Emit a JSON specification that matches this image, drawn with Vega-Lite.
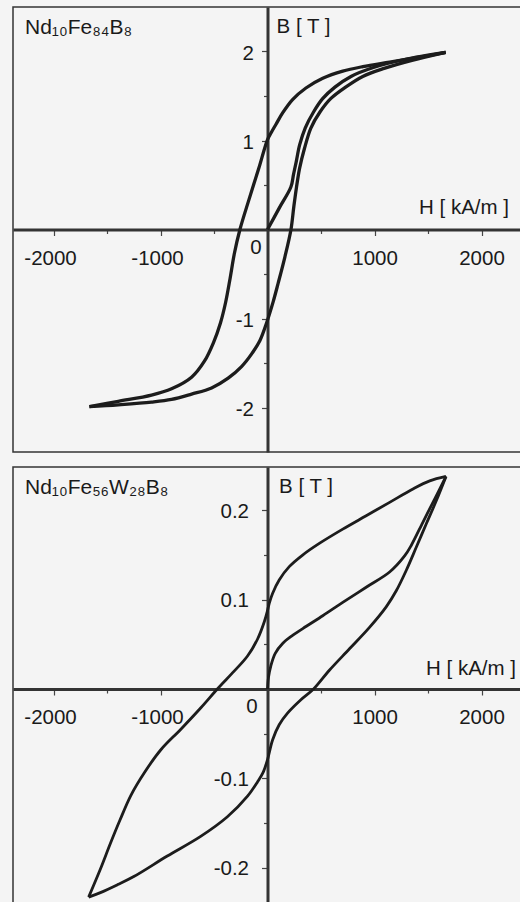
{
  "$schema": "https://vega.github.io/schema/vega-lite/v6.json",
  "background": "#f4f4f4",
  "padding": {"left": 12, "top": 6, "right": 0, "bottom": 0},
  "spacing": 13,
  "config": {
    "view": {"stroke": "#333333", "strokeWidth": 1.5, "fill": "#f4f4f4"},
    "font": "Liberation Sans",
    "text": {"font": "Liberation Sans", "color": "#1a1a1a"},
    "axis": {"grid": false, "labelFont": "Liberation Sans", "labelFontSize": 20.5, "labelColor": "#1a1a1a", "domainColor": "#333333", "domainWidth": 3, "tickColor": "#444444", "tickWidth": 1.2, "labelFlush": false, "labelOverlap": false, "title": null}
  },
  "datasets": {
    "top": [
      {"s": "desc", "i": 0, "H": 1665, "B": 1.99},
      {"s": "desc", "i": 1, "H": 1391, "B": 1.93},
      {"s": "desc", "i": 2, "H": 1141, "B": 1.88},
      {"s": "desc", "i": 3, "H": 891, "B": 1.83},
      {"s": "desc", "i": 4, "H": 703, "B": 1.78},
      {"s": "desc", "i": 5, "H": 516, "B": 1.70},
      {"s": "desc", "i": 6, "H": 359, "B": 1.59},
      {"s": "desc", "i": 7, "H": 234, "B": 1.46},
      {"s": "desc", "i": 8, "H": 141, "B": 1.31},
      {"s": "desc", "i": 9, "H": 78, "B": 1.18},
      {"s": "desc", "i": 10, "H": 35, "B": 1.09},
      {"s": "desc", "i": 11, "H": 0, "B": 1.01},
      {"s": "desc", "i": 12, "H": -81, "B": 0.69},
      {"s": "desc", "i": 13, "H": -175, "B": 0.33},
      {"s": "desc", "i": 14, "H": -258, "B": 0},
      {"s": "desc", "i": 15, "H": -310, "B": -0.27},
      {"s": "desc", "i": 16, "H": -350, "B": -0.55},
      {"s": "desc", "i": 17, "H": -392, "B": -0.82},
      {"s": "desc", "i": 18, "H": -440, "B": -1.05},
      {"s": "desc", "i": 19, "H": -505, "B": -1.27},
      {"s": "desc", "i": 20, "H": -590, "B": -1.48},
      {"s": "desc", "i": 21, "H": -710, "B": -1.66},
      {"s": "desc", "i": 22, "H": -897, "B": -1.79},
      {"s": "desc", "i": 23, "H": -1084, "B": -1.86},
      {"s": "desc", "i": 24, "H": -1395, "B": -1.93},
      {"s": "desc", "i": 25, "H": -1665, "B": -1.99},
      {"s": "asc", "i": 0, "H": -1665, "B": -1.99},
      {"s": "asc", "i": 1, "H": -1395, "B": -1.97},
      {"s": "asc", "i": 2, "H": -1084, "B": -1.94},
      {"s": "asc", "i": 3, "H": -897, "B": -1.91},
      {"s": "asc", "i": 4, "H": -710, "B": -1.85},
      {"s": "asc", "i": 5, "H": -523, "B": -1.78},
      {"s": "asc", "i": 6, "H": -368, "B": -1.67},
      {"s": "asc", "i": 7, "H": -243, "B": -1.54},
      {"s": "asc", "i": 8, "H": -150, "B": -1.40},
      {"s": "asc", "i": 9, "H": -72, "B": -1.25},
      {"s": "asc", "i": 10, "H": -9, "B": -1.05},
      {"s": "asc", "i": 11, "H": 53, "B": -0.81},
      {"s": "asc", "i": 12, "H": 100, "B": -0.60},
      {"s": "asc", "i": 13, "H": 162, "B": -0.31},
      {"s": "asc", "i": 14, "H": 219, "B": 0},
      {"s": "asc", "i": 15, "H": 245, "B": 0.25},
      {"s": "asc", "i": 16, "H": 270, "B": 0.47},
      {"s": "asc", "i": 17, "H": 300, "B": 0.69},
      {"s": "asc", "i": 18, "H": 345, "B": 0.91},
      {"s": "asc", "i": 19, "H": 405, "B": 1.14},
      {"s": "asc", "i": 20, "H": 490, "B": 1.32},
      {"s": "asc", "i": 21, "H": 590, "B": 1.47},
      {"s": "asc", "i": 22, "H": 730, "B": 1.60},
      {"s": "asc", "i": 23, "H": 890, "B": 1.72},
      {"s": "asc", "i": 24, "H": 1090, "B": 1.81},
      {"s": "asc", "i": 25, "H": 1350, "B": 1.90},
      {"s": "asc", "i": 26, "H": 1665, "B": 1.99},
      {"s": "init", "i": 0, "H": 0, "B": 0},
      {"s": "init", "i": 1, "H": 109, "B": 0.24},
      {"s": "init", "i": 2, "H": 219, "B": 0.48},
      {"s": "init", "i": 3, "H": 243, "B": 0.62},
      {"s": "init", "i": 4, "H": 268, "B": 0.76},
      {"s": "init", "i": 5, "H": 300, "B": 0.95},
      {"s": "init", "i": 6, "H": 352, "B": 1.14},
      {"s": "init", "i": 7, "H": 430, "B": 1.32},
      {"s": "init", "i": 8, "H": 515, "B": 1.47},
      {"s": "init", "i": 9, "H": 630, "B": 1.60},
      {"s": "init", "i": 10, "H": 780, "B": 1.72},
      {"s": "init", "i": 11, "H": 990, "B": 1.82},
      {"s": "init", "i": 12, "H": 1280, "B": 1.91},
      {"s": "init", "i": 13, "H": 1665, "B": 1.99}
    ],
    "bottom": [
      {"s": "desc", "i": 0, "H": 1668, "B": 0.238},
      {"s": "desc", "i": 1, "H": 1516, "B": 0.233},
      {"s": "desc", "i": 2, "H": 1359, "B": 0.224},
      {"s": "desc", "i": 3, "H": 1141, "B": 0.209},
      {"s": "desc", "i": 4, "H": 922, "B": 0.194},
      {"s": "desc", "i": 5, "H": 703, "B": 0.179},
      {"s": "desc", "i": 6, "H": 484, "B": 0.163},
      {"s": "desc", "i": 7, "H": 328, "B": 0.150},
      {"s": "desc", "i": 8, "H": 203, "B": 0.137},
      {"s": "desc", "i": 9, "H": 109, "B": 0.122},
      {"s": "desc", "i": 10, "H": 47, "B": 0.107},
      {"s": "desc", "i": 11, "H": 16, "B": 0.096},
      {"s": "desc", "i": 12, "H": 0, "B": 0.088},
      {"s": "desc", "i": 13, "H": -31, "B": 0.075},
      {"s": "desc", "i": 14, "H": -93, "B": 0.056},
      {"s": "desc", "i": 15, "H": -187, "B": 0.037},
      {"s": "desc", "i": 16, "H": -312, "B": 0.020},
      {"s": "desc", "i": 17, "H": -469, "B": 0},
      {"s": "desc", "i": 18, "H": -623, "B": -0.021},
      {"s": "desc", "i": 19, "H": -810, "B": -0.045},
      {"s": "desc", "i": 20, "H": -997, "B": -0.068},
      {"s": "desc", "i": 21, "H": -1153, "B": -0.094},
      {"s": "desc", "i": 22, "H": -1277, "B": -0.119},
      {"s": "desc", "i": 23, "H": -1380, "B": -0.147},
      {"s": "desc", "i": 24, "H": -1469, "B": -0.173},
      {"s": "desc", "i": 25, "H": -1560, "B": -0.201},
      {"s": "desc", "i": 26, "H": -1672, "B": -0.233},
      {"s": "asc", "i": 0, "H": -1672, "B": -0.233},
      {"s": "asc", "i": 1, "H": -1562, "B": -0.228},
      {"s": "asc", "i": 2, "H": -1400, "B": -0.219},
      {"s": "asc", "i": 3, "H": -1250, "B": -0.210},
      {"s": "asc", "i": 4, "H": -937, "B": -0.187},
      {"s": "asc", "i": 5, "H": -625, "B": -0.165},
      {"s": "asc", "i": 6, "H": -375, "B": -0.143},
      {"s": "asc", "i": 7, "H": -187, "B": -0.120},
      {"s": "asc", "i": 8, "H": -94, "B": -0.104},
      {"s": "asc", "i": 9, "H": -40, "B": -0.093},
      {"s": "asc", "i": 10, "H": 0, "B": -0.079},
      {"s": "asc", "i": 11, "H": 47, "B": -0.057},
      {"s": "asc", "i": 12, "H": 109, "B": -0.040},
      {"s": "asc", "i": 13, "H": 187, "B": -0.027},
      {"s": "asc", "i": 14, "H": 312, "B": -0.012},
      {"s": "asc", "i": 15, "H": 430, "B": 0},
      {"s": "asc", "i": 16, "H": 578, "B": 0.021},
      {"s": "asc", "i": 17, "H": 766, "B": 0.045},
      {"s": "asc", "i": 18, "H": 953, "B": 0.069},
      {"s": "asc", "i": 19, "H": 1109, "B": 0.092},
      {"s": "asc", "i": 20, "H": 1203, "B": 0.110},
      {"s": "asc", "i": 21, "H": 1297, "B": 0.133},
      {"s": "asc", "i": 22, "H": 1391, "B": 0.159},
      {"s": "asc", "i": 23, "H": 1484, "B": 0.185},
      {"s": "asc", "i": 24, "H": 1578, "B": 0.211},
      {"s": "asc", "i": 25, "H": 1668, "B": 0.238},
      {"s": "init", "i": 0, "H": 0, "B": 0},
      {"s": "init", "i": 1, "H": 9, "B": 0.013},
      {"s": "init", "i": 2, "H": 31, "B": 0.026},
      {"s": "init", "i": 3, "H": 72, "B": 0.040},
      {"s": "init", "i": 4, "H": 141, "B": 0.051},
      {"s": "init", "i": 5, "H": 234, "B": 0.060},
      {"s": "init", "i": 6, "H": 359, "B": 0.070},
      {"s": "init", "i": 7, "H": 516, "B": 0.082},
      {"s": "init", "i": 8, "H": 703, "B": 0.097},
      {"s": "init", "i": 9, "H": 922, "B": 0.114},
      {"s": "init", "i": 10, "H": 1141, "B": 0.131},
      {"s": "init", "i": 11, "H": 1281, "B": 0.149},
      {"s": "init", "i": 12, "H": 1344, "B": 0.161},
      {"s": "init", "i": 13, "H": 1453, "B": 0.187},
      {"s": "init", "i": 14, "H": 1563, "B": 0.213},
      {"s": "init", "i": 15, "H": 1668, "B": 0.238}
    ]
  },
  "vconcat": [
    {
      "width": 508,
      "height": 445,
      "layer": [
        {
          "data": {"name": "top"},
          "mark": {"type": "line", "interpolate": "catmull-rom", "color": "#1c1c1c", "strokeWidth": 3.3},
          "encoding": {
            "x": {"field": "H", "type": "quantitative", "scale": {"domain": [-2379, 2369], "nice": false, "zero": false},
              "axis": {"values": [-2000, -1500, -1000, -500, 500, 1000, 1500, 2000], "offset": -222.5,
                "labelExpr": "datum.value % 1000 === 0 ? '' + datum.value : ''",
                "tickSize": {"condition": {"test": "datum.value % 1000 !== 0", "value": 4}, "value": 6},
                "labelOffset": {"condition": {"test": "datum.value < 0", "value": -3.5}, "value": 0},
                "labelPadding": 13}},
            "y": {"field": "B", "type": "quantitative", "scale": {"domain": [-2.5, 2.5], "nice": false, "zero": false},
              "axis": {"values": [-2, -1.5, -1, -0.5, 0.5, 1, 1.5, 2], "offset": -254.5,
                "labelExpr": "datum.value % 1 === 0 ? '' + datum.value : ''",
                "tickSize": {"condition": {"test": "datum.value % 1 !== 0", "value": 4}, "value": 6},
                "labelPadding": 8, "labelOffset": 2}},
            "detail": {"field": "s"},
            "order": {"field": "i", "type": "quantitative"}
          }
        },
        {
          "data": {"values": [{"label": "Nd₁₀Fe₈₄B₈"}]},
          "mark": {"type": "text", "align": "left", "baseline": "top", "dx": 12, "dy": 10, "fontSize": 21},
          "encoding": {"x": {"datum": -2379, "type": "quantitative"}, "y": {"datum": 2.5, "type": "quantitative"}, "text": {"field": "label"}}
        },
        {
          "data": {"values": [{"label": "B [ T ]"}]},
          "mark": {"type": "text", "align": "left", "baseline": "top", "dx": 9, "dy": 10, "fontSize": 20.5},
          "encoding": {"x": {"datum": 0, "type": "quantitative"}, "y": {"datum": 2.5, "type": "quantitative"}, "text": {"field": "label"}}
        },
        {
          "data": {"values": [{"label": "H [ kA/m ]"}]},
          "mark": {"type": "text", "align": "right", "baseline": "alphabetic", "dx": -12, "dy": -15.5, "fontSize": 20.5},
          "encoding": {"x": {"datum": 2369, "type": "quantitative"}, "y": {"datum": 0, "type": "quantitative"}, "text": {"field": "label"}}
        },
        {
          "data": {"values": [{"label": "0"}]},
          "mark": {"type": "text", "align": "right", "baseline": "alphabetic", "dx": -6, "dy": 24.5, "fontSize": 20.5},
          "encoding": {"x": {"datum": 0, "type": "quantitative"}, "y": {"datum": 0, "type": "quantitative"}, "text": {"field": "label"}}
        }
      ]
    },
    {
      "width": 508,
      "height": 438.5,
      "layer": [
        {
          "data": {"name": "bottom"},
          "mark": {"type": "line", "interpolate": "catmull-rom", "color": "#1c1c1c", "strokeWidth": 2.8},
          "encoding": {
            "x": {"field": "H", "type": "quantitative", "scale": {"domain": [-2379, 2369], "nice": false, "zero": false},
              "axis": {"values": [-2000, -1500, -1000, -500, 500, 1000, 1500, 2000], "offset": -216.5,
                "labelExpr": "datum.value % 1000 === 0 ? '' + datum.value : ''",
                "tickSize": {"condition": {"test": "datum.value % 1000 !== 0", "value": 4}, "value": 6},
                "labelOffset": {"condition": {"test": "datum.value < 0", "value": -3.5}, "value": 0},
                "labelPadding": 12}},
            "y": {"field": "B", "type": "quantitative", "scale": {"domain": [-0.2424, 0.2486], "nice": false, "zero": false},
              "axis": {"values": [-0.2, -0.15, -0.1, -0.05, 0.05, 0.1, 0.15, 0.2], "offset": -254.5,
                "labelExpr": "abs(datum.value * 10 - round(datum.value * 10)) < 0.000001 ? '' + datum.value : ''",
                "tickSize": {"condition": {"test": "abs(datum.value * 10 - round(datum.value * 10)) > 0.000001", "value": 4}, "value": 6},
                "labelPadding": 13, "labelOffset": 1}},
            "detail": {"field": "s"},
            "order": {"field": "i", "type": "quantitative"}
          }
        },
        {
          "data": {"values": [{"label": "Nd₁₀Fe₅₆W₂₈B₈"}]},
          "mark": {"type": "text", "align": "left", "baseline": "top", "dx": 12, "dy": 9.5, "fontSize": 21},
          "encoding": {"x": {"datum": -2379, "type": "quantitative"}, "y": {"datum": 0.2486, "type": "quantitative"}, "text": {"field": "label"}}
        },
        {
          "data": {"values": [{"label": "B [ T ]"}]},
          "mark": {"type": "text", "align": "left", "baseline": "top", "dx": 11.5, "dy": 10, "fontSize": 20.5},
          "encoding": {"x": {"datum": 0, "type": "quantitative"}, "y": {"datum": 0.2486, "type": "quantitative"}, "text": {"field": "label"}}
        },
        {
          "data": {"values": [{"label": "H [ kA/m ]"}]},
          "mark": {"type": "text", "align": "right", "baseline": "alphabetic", "dx": -5, "dy": -14.3, "fontSize": 20.5},
          "encoding": {"x": {"datum": 2369, "type": "quantitative"}, "y": {"datum": 0, "type": "quantitative"}, "text": {"field": "label"}}
        },
        {
          "data": {"values": [{"label": "0"}]},
          "mark": {"type": "text", "align": "right", "baseline": "alphabetic", "dx": -10, "dy": 24, "fontSize": 20.5},
          "encoding": {"x": {"datum": 0, "type": "quantitative"}, "y": {"datum": 0, "type": "quantitative"}, "text": {"field": "label"}}
        }
      ]
    }
  ]
}
